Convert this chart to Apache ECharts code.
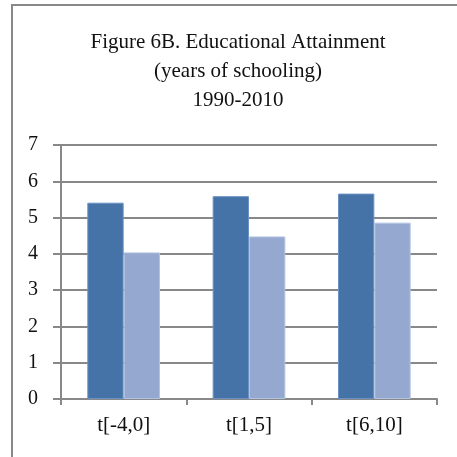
<!DOCTYPE html>
<html>
<head>
<meta charset="utf-8">
<script src="https://cdn.jsdelivr.net/npm/echarts@6/dist/echarts.min.js"></script>
<style>
html, body { margin: 0; padding: 0; background: #fff; }
#chart { width: 457px; height: 457px; }
</style>
</head>
<body>
<div id="chart"></div>
<script>
// data
var categories = ['t[-4,0]', 't[1,5]', 't[6,10]'];
var seriesA = [5.41, 5.59, 5.66];
var seriesB = [4.04, 4.48, 4.86];
var titleLines = ['Figure 6B. Educational Attainment', '(years of schooling)', '1990-2010'];

var serif = '"Liberation Serif", "DejaVu Serif", serif';

function initBarSeries(serName, dataList, color, edge) {
	return {
		name : serName,
		type : 'bar',
		data : dataList,
		barGap : '0%',
		barCategoryGap : '42%',
		itemStyle : {
			color : color,
			borderColor : edge,
			borderWidth : 1
		}
	};
}

var myChart = echarts.init(document.getElementById('chart'));
var option = {
	animation : false,
	backgroundColor : '#fff',
	graphic : [ {
		type : 'rect',
		shape : { x : 12, y : 5, width : 500, height : 500 },
		style : { fill : null, stroke : '#888', lineWidth : 2 },
		silent : true
	}, {
		// title, centred a bit left of the plot like the original
		type : 'text',
		x : 238,
		y : 28,
		silent : true,
		style : {
			text : titleLines.join('\n'),
			align : 'center',
			verticalAlign : 'top',
			fontFamily : serif,
			fontSize : 21,
			lineHeight : 29,
			fill : '#111'
		}
	} ],
	grid : {
		left : 61,
		right : 20,
		top : 145,
		bottom : 58
	},
	xAxis : {
		type : 'category',
		data : categories,
		axisLine : { lineStyle : { color : '#888', width : 2 } },
		axisTick : { show : true, length : 6, lineStyle : { color : '#888', width : 2 } },
		axisLabel : {
			fontFamily : serif,
			fontSize : 21,
			color : '#111',
			margin : 16
		}
	},
	yAxis : {
		type : 'value',
		min : 0,
		max : 7,
		interval : 1,
		axisLine : { show : true, lineStyle : { color : '#888', width : 2 } },
		axisTick : { show : true, length : 8, lineStyle : { color : '#888', width : 2 } },
		splitLine : { lineStyle : { color : '#888', width : 2 } },
		axisLabel : {
			fontFamily : serif,
			fontSize : 20,
			color : '#111',
			margin : 23
		}
	},
	series : [
		initBarSeries('A', seriesA, '#4572A7', '#6a92c4'),
		initBarSeries('B', seriesB, '#95A9D0', '#b3c4e2')
	]
};
myChart.setOption(option, true);
</script>
</body>
</html>
